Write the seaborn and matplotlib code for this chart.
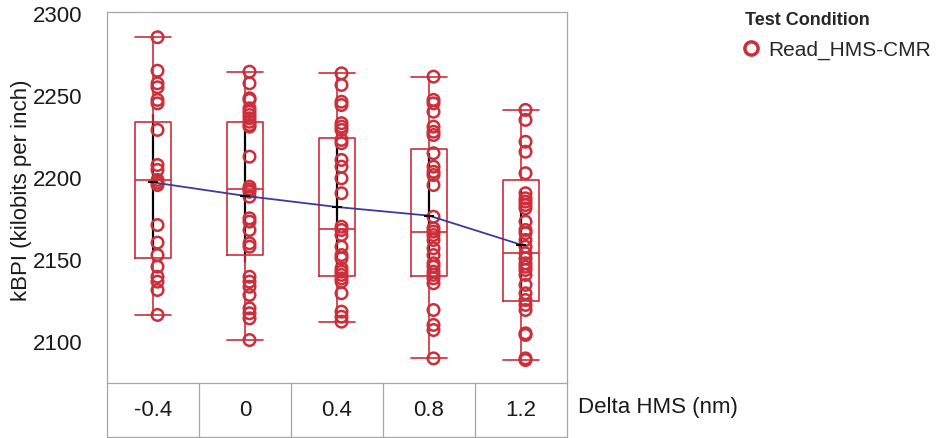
import matplotlib
matplotlib.use("Agg")
import matplotlib.pyplot as plt
from matplotlib.lines import Line2D
from matplotlib.ticker import MultipleLocator
from matplotlib.transforms import ScaledTranslation
import numpy as np
import pandas as pd
import seaborn as sns

# Delta HMS settings (nm)
delta_hms = ["-0.4", "0", "0.4", "0.8", "1.2"]

# kBPI per head, one list per Delta HMS setting
kbpi_neg04 = [2285.8, 2265.4, 2257.7, 2255.3, 2247.6, 2245.5, 2229.3, 2207.9,
              2204.9, 2198.8, 2197.1, 2195.7, 2171.3, 2160.6, 2153.0, 2145.9,
              2139.8, 2136.8, 2131.7, 2116.5]
kbpi_0 = [2264.8, 2257.7, 2248.6, 2247.6, 2242.5, 2240.4, 2238.4, 2236.4,
          2234.3, 2232.3, 2231.3, 2213.0, 2194.7, 2193.1, 2191.6, 2188.6,
          2175.4, 2173.4, 2168.3, 2160.2, 2158.1, 2139.8, 2136.8, 2133.7,
          2128.7, 2120.5, 2117.5, 2114.4, 2101.2]
kbpi_04 = [2263.8, 2256.7, 2246.5, 2244.5, 2233.4, 2231.3, 2229.3, 2223.2,
           2221.2, 2211.0, 2206.9, 2199.8, 2190.7, 2170.3, 2168.3, 2165.2,
           2158.1, 2153.0, 2151.0, 2144.9, 2142.9, 2140.9, 2138.8, 2136.8,
           2129.7, 2118.5, 2115.4, 2112.4]
kbpi_08 = [2261.8, 2247.6, 2245.5, 2240.4, 2231.3, 2228.2, 2226.2, 2215.1,
           2206.9, 2203.8, 2201.8, 2195.7, 2176.4, 2169.3, 2167.3, 2165.2,
           2162.2, 2157.1, 2153.0, 2148.0, 2145.9, 2142.9, 2140.9, 2138.8,
           2135.8, 2119.5, 2110.4, 2107.3, 2090.0]
kbpi_12 = [2241.5, 2235.4, 2222.1, 2216.0, 2202.9, 2190.7, 2187.6, 2185.6,
           2183.5, 2181.5, 2173.4, 2168.3, 2166.3, 2162.2, 2158.1, 2154.1,
           2151.0, 2148.0, 2145.9, 2143.9, 2140.9, 2134.8, 2129.7, 2125.6,
           2122.6, 2119.5, 2105.3, 2104.3, 2090.0, 2089.0]

# Quantile box summary per setting
box_q1 = [2151.4, 2153.0, 2140.2, 2140.4, 2125.0]
box_median = [2198.8, 2193.1, 2168.7, 2167.3, 2154.1]
box_q3 = [2234.3, 2234.3, 2224.2, 2217.7, 2198.8]

series_label = "Read_HMS-CMR"
legend_title = "Test Condition"

RED = "#cc2e3a"
BLUE = "#3b3a9e"
FRAME = "#a6a6a6"
TEXT = "#1a1a1a"

groups = [kbpi_neg04, kbpi_0, kbpi_04, kbpi_08, kbpi_12]
df = pd.DataFrame({
    "Delta HMS (nm)": np.repeat(delta_hms, [len(g) for g in groups]),
    "kBPI": np.concatenate(groups),
})

sns.set_style("white")
plt.rcParams["font.family"] = ["Liberation Sans", "DejaVu Sans"]

fig = plt.figure(figsize=(9.4, 4.38), dpi=100)
ax = fig.add_axes([107 / 940, 55 / 438, 460 / 940, 371 / 438])

# Connected means with spread bars
sns.pointplot(data=df, x="Delta HMS (nm)", y="kBPI", order=delta_hms,
              estimator="mean", errorbar=("sd", 0.8), color=BLUE,
              markers="_", linewidth=1.3,
              err_kws={"color": "black", "linewidth": 1.6}, ax=ax)
for ln in ax.lines:
    if len(ln.get_xdata()) == len(delta_hms):
        ln.set_zorder(6)
        ln.set_markeredgecolor("black")
        ln.set_markerfacecolor("black")
        ln.set_markersize(7)
        ln.set_markeredgewidth(1.5)
    else:
        ln.set_zorder(1.5)

# Quantile boxes with whiskers to the extremes
stats = [dict(q1=q1, med=md, q3=q3, whislo=min(g), whishi=max(g), fliers=[])
         for q1, md, q3, g in zip(box_q1, box_median, box_q3, groups)]
line_kw = dict(color=RED, linewidth=1.2)
ax.bxp(stats, positions=range(len(delta_hms)), widths=0.4, capwidths=0.4,
       showfliers=False, manage_ticks=False,
       boxprops=line_kw, whiskerprops=line_kw, capprops=line_kw,
       medianprops=line_kw)

# Individual heads as open circles
sns.stripplot(data=df, x="Delta HMS (nm)", y="kBPI", order=delta_hms,
              jitter=False, color=RED, size=8.3, ax=ax, zorder=4)
shift = ScaledTranslation(0.045, 0, fig.dpi_scale_trans)
for coll in ax.collections:
    coll.set_facecolor("none")
    coll.set_edgecolor(RED)
    coll.set_linewidth(1.8)
    coll.set_offset_transform(coll.get_offset_transform() + shift)

ax.set_xlim(-0.5, len(delta_hms) - 0.5)
ax.set_ylim(2075, 2301.2)
ax.yaxis.set_major_locator(MultipleLocator(50))
ax.yaxis.set_minor_locator(MultipleLocator(25))
ax.tick_params(axis="y", which="major", direction="out", length=5.8,
               width=0.8, color=FRAME, labelsize=16, labelcolor=TEXT, pad=12)
ax.tick_params(axis="y", which="minor", direction="out", length=3.6,
               width=0.8, color=FRAME)
ax.tick_params(axis="x", length=0, labelsize=16, labelcolor=TEXT, pad=12.5)

for sp in ax.spines.values():
    sp.set_color(FRAME)
    sp.set_linewidth(0.9)

# Category table under the plot
depth = 54 / 371
xt = ax.get_xaxis_transform()
for b in np.arange(-0.5, len(delta_hms), 1.0):
    ax.plot([b, b], [0, -depth], transform=xt, color=FRAME, lw=0.9,
            clip_on=False)
ax.plot([-0.5, len(delta_hms) - 0.5], [-depth, -depth], transform=xt,
        color=FRAME, lw=0.9, clip_on=False)

ax.set_ylabel("kBPI (kilobits per inch)", fontsize=16, color=TEXT)
ax.yaxis.set_label_coords(-0.162, 0.52)
ax.set_xlabel("Delta HMS (nm)", fontsize=16, color=TEXT)
ax.xaxis.label.set_ha("left")
ax.xaxis.label.set_va("center")
ax.xaxis.set_label_coords(1.024, -0.065)

handle = Line2D([], [], marker="o", linestyle="none", markerfacecolor="none",
                markeredgecolor=RED, markeredgewidth=2.5, markersize=9.5)
leg = fig.legend([handle], [series_label], title=legend_title,
                 loc="upper left", bbox_to_anchor=(745 / 940, 1 - 12 / 438),
                 frameon=False, fontsize=15, alignment="left",
                 title_fontproperties={"weight": "bold", "size": 13},
                 handlelength=0.6, handletextpad=0.5, labelspacing=0.55,
                 borderpad=0, borderaxespad=0)

fig.savefig("out.png", dpi=100)
